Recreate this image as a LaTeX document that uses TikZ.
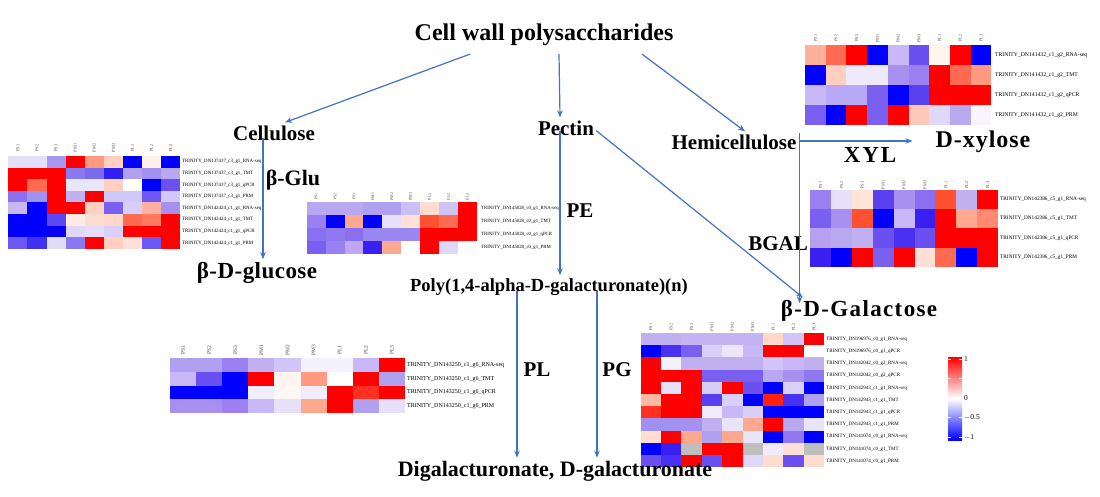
\documentclass[tikz,border=0pt]{standalone}
\usepackage{fontspec}
\setmainfont{Liberation Serif}
\usetikzlibrary{arrows.meta,calc}
\definecolor{arrowblue}{HTML}{4472C4}
\newcommand\TD{TRINITY\_DN}
\newcommand\heatmap[5]{%
  \foreach \row [count=\j from 0] in {#5} {
    \foreach \c [count=\i from 0] in \row {
      \edef\tmpc{\noexpand\definecolor{cellc}{HTML}{\c}}\tmpc
      \fill[cellc] ({#1+\i*#3},{#2+\j*#4}) rectangle ++(#3,#4);
    }}}
\newcommand\rowlabels[6]{%
  \foreach \t [count=\j from 0] in {#6} {
    \node[anchor=west, font=\fontsize{#4}{#4}\selectfont, inner sep=0pt] (#5r\j) at (#1,{#2+\j*#3}) {\t};
  }}
\newcommand\collabels[5]{%
  \foreach \t [count=\i from 0] in {PS1,PS2,PS3,PM1,PM2,PM3,PL1,PL2,PL3} {
    \node[rotate=90, font=\fontsize{#4}{#4}\selectfont, inner sep=0pt, text=black!70] (#5c\i) at ({#1+(\i+0.5)*#3},#2) {\t};
  }}
\tikzset{
  lbl/.style={font=\fontsize{21}{24}\selectfont\bfseries, inner sep=0pt},
  arr/.style={draw=arrowblue, line width=1.2pt, -{Stealth[length=7pt,width=5.5pt]}},
}
\begin{document}
\begin{tikzpicture}[x=1pt,y=-1pt]
\useasboundingbox[fill=white] (0,0) rectangle (1100,496);

% ---------- H1 : cellulose ----------
\heatmap{8.3}{156}{19.1}{11.6}{
{E4E0FA,E4E0FA,A898F0,FF0000,FF9A80,FFD0C0,0000FF,FFF0EA,0000FF},
{FF0000,FF0000,FF0000,8A7AF0,7A6AF0,3020F0,B0A0F0,A090F0,B8A8F0},
{FF0000,FF6A50,FF0000,E8E4FA,EAE6FA,FFD0C0,FFFFFF,0000FF,6A50F0},
{8A70F0,A090F0,FF0000,C0B0F0,FF0000,D0C8F8,D0C8F8,6A58F0,D0C8F8},
{C8B8F0,0000FF,FF0000,FF0000,FFD0C0,7A60F0,D8CCF8,FFB0A0,A890F0},
{0000FF,0000FF,5A48F0,FFEAE4,FFDCD0,FFD6CC,FF6A50,FF7A60,FF0000},
{0000FF,0000FF,0A00F0,E0D8F8,E4DCF8,D8D0F8,FF0000,FF0000,FF0000},
{6A58F0,4030F0,E0DCF8,8A78F0,FF0000,FFD0C0,FFE0D8,6A58F0,FF0000}}
\collabels{8.3}{148}{19.1}{4.3}{ha}
\rowlabels{182}{161.8}{11.6}{4.9}{ha}{\TD137437\_c3\_g1\_RNA-seq,\TD137437\_c3\_g1\_TMT,\TD137437\_c3\_g1\_qPCR,\TD137437\_c3\_g1\_PRM,\TD142424\_c1\_g1\_RNA-seq,\TD142424\_c1\_g1\_TMT,\TD142424\_c1\_g1\_qPCR,\TD142424\_c1\_g1\_PRM}

% ---------- H2 : PE ----------
\heatmap{306.7}{201.7}{18.9}{13.15}{
{B8A8F0,B8A8F0,B8A8F0,B0A0F0,B0A0F0,CBBFF5,FFDCD0,D0C4F6,FF0000},
{9A80F0,0000FF,FFA890,0000FF,E8E0FA,FFE0D8,FF5030,FF6A50,FF0000},
{8A70F0,9078F0,8A70F0,9A88F0,9A88F0,9A88F0,FF0000,FF0000,FF0000},
{7A60F0,9A80F0,C0A8F0,3A20F0,FFA890,FFFFFF,FF0000,E0D8FA,FFFFFF}}
\collabels{306.7}{196.7}{18.9}{4.0}{hb}
\rowlabels{481}{208.3}{13.15}{4.8}{hb}{\TD145028\_c0\_g1\_RNA-seq,\TD145028\_c0\_g1\_TMT,\TD145028\_c0\_g1\_qPCR,\TD145028\_c0\_g1\_PRM}

% ---------- H3 : XYL ----------
\heatmap{805}{45}{20.7}{20}{
{FFB09A,FF6A50,FF0000,0000FF,C8B8F8,6A50F0,FFF4F0,FF0000,0000FF},
{0000FF,FFD0C0,EEEAFA,EEEAFA,A890F0,9A80F0,FF0000,FF6A50,FF9A80},
{C8B8F8,B8A8F8,B8A8F8,7A60F0,0000FF,5A40F0,FF0000,FF0000,FF0000},
{7A60F0,0000FF,FF0000,7A60F0,FF0000,FFC8B8,E0D8FA,B8A8F0,F8F6FC}}
\collabels{805}{38.3}{20.7}{4.3}{hc}
\rowlabels{995}{55}{20}{5.7}{hc}{\TD141432\_c1\_g2\_RNA-seq,\TD141432\_c1\_g2\_TMT,\TD141432\_c1\_g2\_qPCR,\TD141432\_c1\_g2\_PRM}

% ---------- H4 : BGAL ----------
\heatmap{810}{190}{20.9}{19.2}{
{9A80F0,E8E0FA,FFE4DA,5A40F0,A890F0,8A70F0,FF5030,C0B0F0,FF0000},
{7A60F0,A890F0,FF5030,0000FF,C8B8F8,3A20F0,FF0000,FFA890,FF8A70},
{B8A0F0,B8A8F0,C0B0F0,6A50F0,4A30F0,6A50F0,FF0000,FF0000,FF0000},
{3A20F0,0000FF,FF0000,7A60F0,FF0000,FFE0D8,FF6A50,0000FF,FF0000}}
\collabels{810}{185}{20.9}{4.3}{hd}
\rowlabels{1000}{199.6}{19.2}{5.3}{hd}{\TD142386\_c5\_g1\_RNA-seq,\TD142386\_c5\_g1\_TMT,\TD142386\_c5\_g1\_qPCR,\TD142386\_c5\_g1\_PRM}

% ---------- H5 : PL ----------
\heatmap{170}{358}{26.1}{13.75}{
{B0A0F0,B0A0F0,9A80F0,C0B0F0,D0C4F8,F4F2FC,F4F2FC,C8B8F8,FF0000},
{C8B8F8,6A50F0,0000FF,FF0000,FFF4F0,FF9A80,FFFFFF,FF0000,B0A0F0},
{0000FF,0000FF,0000FF,F0EEFC,FFF8F4,F0ECFC,FF0000,FF3020,FF0000},
{A890F0,A890F0,A080F0,C8B8F8,E8E0FA,FFA890,FF0000,B0A0F0,E8E0FA}}
\collabels{170}{350}{26.1}{5.5}{he}
\rowlabels{407}{364.9}{13.75}{6.0}{he}{\TD143250\_c1\_g6\_RNA-seq,\TD143250\_c1\_g6\_TMT,\TD143250\_c1\_g6\_qPCR,\TD143250\_c1\_g6\_PRM}

% ---------- H6 : PG ----------
\heatmap{640.5}{333}{20.4}{12.2}{
{C0B0F0,C0B0F0,C4B4F4,C4B4F4,C4B4F4,C4B4F4,FFD8C8,D0C4F8,FF0000},
{0000FF,4A30F0,7A60F0,D8D0F8,EBE6FA,C8B8F8,FF0000,FF0000,FFFFFF},
{FF0000,F4F2FC,C0B0F0,C0B0F0,C0B0F0,C0B0F0,D0C4F8,C8B8F8,C0B0F0},
{FF0000,FF0000,FF0000,7A60F0,7A60F0,7A60F0,B8A8F0,A890F0,9078F0},
{FF0000,E8E0FA,FF0000,D8CCF8,FF0000,6A50F0,0000FF,D8D0F8,0000FF},
{FFB8A0,FF0000,FF0000,5A40F0,D8D0F8,0000FF,FF2010,4A30F0,B0A0F0},
{FF3020,FF0000,FF0000,F0ECFC,C8B8F8,D8D0F8,0000FF,0000FF,0000FF},
{A090F0,A090F0,A890F0,C0B0F0,E8E4FA,FFA890,FF0000,B8A8F0,E8E4FA},
{FFDCD0,FF0000,FFA890,B0A0F0,FFA890,E8E4FA,0000FF,9078F0,0000FF},
{0000FF,3A20F0,BEBEBE,FF0000,FF0000,BEBEBE,F0ECFC,FFE0D8,BEBEBE},
{6A50F0,4A30F0,FF0000,6A50F0,FF0000,E0D8F8,FFDCD0,6A50F0,FFDCD0}}
\collabels{640.5}{327}{20.4}{4.3}{hf}
\rowlabels{826}{339.1}{12.2}{5.0}{hf}{\TD196976\_c0\_g1\_RNA-seq,\TD196976\_c0\_g1\_qPCR,\TD142042\_c0\_g2\_RNA-seq,\TD142042\_c0\_g2\_qPCR,\TD142943\_c1\_g1\_RNA-seq,\TD142943\_c1\_g1\_TMT,\TD142943\_c1\_g1\_qPCR,\TD142943\_c1\_g1\_PRM,\TD141074\_c0\_g1\_RNA-seq,\TD141074\_c0\_g1\_TMT,\TD141074\_c0\_g1\_PRM}

% ---------- legend ----------
\shade[top color=red, bottom color=white] (948,357) rectangle (962,398.5);
\shade[top color=white, bottom color=blue] (948,398.5) rectangle (962,440);
\foreach \yy in {359,378,398.5,417.5,437} {
  \draw[white, line width=0.6pt] (948,\yy) -- ++(3,0);
  \draw[white, line width=0.6pt] (959,\yy) -- ++(3,0);
}
\node[anchor=west, font=\fontsize{7.5}{8}\selectfont, inner sep=0pt] (lg1) at (964,359) {1};
\node[anchor=west, font=\fontsize{7.5}{8}\selectfont, inner sep=0pt] (lg0) at (964,398.5) {0};
\node[anchor=west, font=\fontsize{7.5}{8}\selectfont, inner sep=0pt] (lgm) at (964,417.5) {$-$0.5};
\node[anchor=west, font=\fontsize{7.5}{8}\selectfont, inner sep=0pt] (lgn) at (964,437) {$-$1};

% ---------- main labels ----------
\node[lbl, font=\fontsize{24}{26}\selectfont\bfseries] (cw) at (544,35) {Cell wall polysaccharides};
\node[lbl] (cel) at (274,133) {Cellulose};
\node[lbl] (pec) at (566,128) {Pectin};
\node[lbl] (hem) at (734,142) {Hemicellulose};
\node[lbl, font=\fontsize{24}{26}\selectfont\bfseries\addfontfeature{LetterSpace=4}] (xyl) at (983,142) {D-xylose};
\node[lbl, font=\fontsize{23}{25}\selectfont\bfseries\addfontfeature{LetterSpace=2}] (glc) at (257,273) {β-D-glucose};
\node[lbl, font=\fontsize{18.5}{20}\selectfont\bfseries] (poly) at (549,287) {Poly(1,4-alpha-D-galacturonate)(n)};
\node[lbl, font=\fontsize{23}{25}\selectfont\bfseries\addfontfeature{LetterSpace=6}] (gal) at (859,311) {β-D-Galactose};
\node[lbl, font=\fontsize{22}{24}\selectfont\bfseries] (dig) at (555,471) {Digalacturonate, D-galacturonate};
\node[lbl, font=\fontsize{22}{24}\selectfont\bfseries] (bglu) at (293,180) {β-Glu};
\node[lbl] (pe) at (580,211) {PE};
\node[lbl, font=\fontsize{23}{25}\selectfont\bfseries\addfontfeature{LetterSpace=8}] (xylE) at (870,155) {XYL};
\node[lbl] (bgal) at (778,244) {BGAL};
\node[lbl] (pl) at (537,370) {PL};
\node[lbl] (pg) at (617,370) {PG};

% ---------- connectors ----------
\draw[arr] ($(cw.south)+(-74,8)$) -- ($(cel.north)+(11,-3)$);
\draw[arr] ($(cw.south)+(15,8)$) -- ($(pec.north)+(-6,-3)$);
\draw[arr] ($(cw.south)+(98,8)$) -- ($(hem.north)+(11,-3)$);
\draw[arr] ($(cel.south)+(-11,-3)$) -- ($(glc.north)+(6,-3)$);
\draw[arr] ($(pec.south)+(-6,-5)$) -- ($(poly.north)+(11,-3)$);
\draw[arr] ($(pec.south east)+(2,-5)$) -- ($(gal.north west)+(22,-3)$);
\draw[arr] ($(hem.east)+(3,-1)$) -- ($(xyl.west)+(-23,-1)$);
\draw[arr] ($(hem.north east)+(3,-1)$) coordinate (hv) -- ($(hv |- gal.north)+(0,3)$);
\draw[arr] ($(poly.south)+(-32,-5)$) -- ($(dig.north)+(-38,-3)$);
\draw[arr] ($(poly.south)+(48,-5)$) -- ($(dig.north)+(42,-3)$);
\end{tikzpicture}
\end{document}
